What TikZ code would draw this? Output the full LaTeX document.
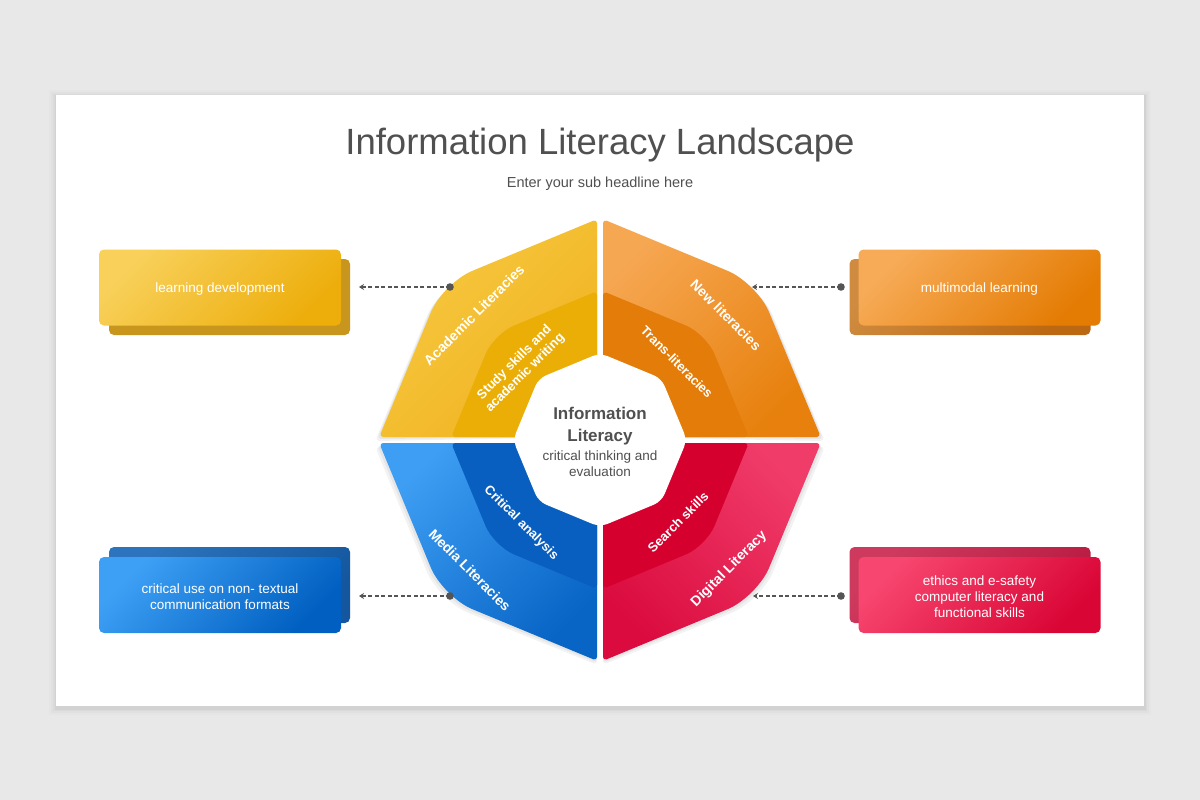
\documentclass[tikz,border=0pt]{standalone}
\usepackage{fontspec}
\setmainfont{Liberation Sans}
\usetikzlibrary{arrows.meta,calc}
\definecolor{bgray}{HTML}{E9E8E9}
\definecolor{txtgray}{HTML}{505050}
\definecolor{conngray}{HTML}{555555}
\definecolor{yA}{HTML}{F7C840}\definecolor{yB}{HTML}{F0B321}\definecolor{yIn}{HTML}{EBAE07}
\definecolor{oA}{HTML}{F6A752}\definecolor{oB}{HTML}{E7800C}\definecolor{oIn}{HTML}{E37C09}
\definecolor{bA}{HTML}{3D9EF3}\definecolor{bB}{HTML}{0864C5}\definecolor{bIn}{HTML}{085FC0}
\definecolor{rA}{HTML}{F03C69}\definecolor{rB}{HTML}{DB0B3F}\definecolor{rIn}{HTML}{D6002F}
\definecolor{ybxA}{HTML}{F8D05A}\definecolor{ybxB}{HTML}{EDAE0C}\definecolor{ybk}{HTML}{C8961C}
\definecolor{obxA}{HTML}{F7AB57}\definecolor{obxB}{HTML}{E47C04}\definecolor{obkA}{HTML}{CF8C40}\definecolor{obkB}{HTML}{BC6812}
\definecolor{bbxA}{HTML}{3EA0F5}\definecolor{bbxB}{HTML}{005FC0}\definecolor{bbkA}{HTML}{2C74BD}\definecolor{bbkB}{HTML}{14579E}
\definecolor{rbxA}{HTML}{F7466F}\definecolor{rbxB}{HTML}{D90535}\definecolor{rbkA}{HTML}{CE3A5E}\definecolor{rbkB}{HTML}{B81A40}
\tikzset{
  boxfront/.style={minimum width=242, minimum height=76, rounded corners=5, inner sep=0pt},
  boxtext/.style={align=center, text=white, font=\fontsize{13.5}{16}\selectfont},
  boxback/.style={minimum width=241, minimum height=76, rounded corners=5, inner sep=0pt},
  dline/.style={draw=conngray, line width=1.8pt, dash pattern=on 4pt off 2.5pt, -{Stealth[length=5pt,width=6pt]}},
  dotmark/.style={fill=conngray},
  outerlbl/.style={text=white, font=\bfseries\fontsize{14}{16}\selectfont, align=center},
  innerlbl/.style={text=white, font=\bfseries\fontsize{13}{15}\selectfont, align=center},
  softshadow/.style={fill=black, opacity=0.05},
}
\begin{document}
\begin{tikzpicture}[x=1pt,y=-1pt]
\useasboundingbox (0,0) rectangle (1200,800);
\fill[bgray] (0,0) rectangle (1200,800);
% card with soft shadow
\foreach \i/\o in {7/0.012,5/0.018,3/0.025,1.5/0.035}
  \fill[black,opacity=\o] (56-\i,95-\i+2) rectangle (1144+\i,706+\i+2);
\fill[white] (56,95) rectangle (1144,706);

% titles
\node[text=txtgray, font=\fontsize{36.5}{40}\selectfont] (title) at (600,145) {Information Literacy Landscape};
\node[text=txtgray, font=\fontsize{14.5}{17}\selectfont] (sub) at (600,184) {Enter your sub headline here};

% ---- soft shadows of the pieces ----
\foreach \s in {2,4}{
\fill[softshadow] (597,437) [rounded corners=4] -- ($(597,219.2)+(0,\s)$) [rounded corners=32] -- ($(443,283)+(-\s,\s)$) [rounded corners=4] -- ($(379.2,437)+(-\s,\s)$) [sharp corners] -- cycle;
\fill[softshadow] (603,437) [rounded corners=4] -- ($(603,219.2)+(0,\s)$) [rounded corners=32] -- ($(757,283)+(\s,\s)$) [rounded corners=4] -- ($(820.8,437)+(\s,\s)$) [sharp corners] -- cycle;
\fill[softshadow] (597,443) [rounded corners=4] -- ($(597,660.8)+(0,\s)$) [rounded corners=32] -- ($(443,597)+(-\s,\s)$) [rounded corners=4] -- ($(379.2,443)+(-\s,\s)$) [sharp corners] -- cycle;
\fill[softshadow] (603,443) [rounded corners=4] -- ($(603,660.8)+(0,\s)$) [rounded corners=32] -- ($(757,597)+(\s,\s)$) [rounded corners=4] -- ($(820.8,443)+(\s,\s)$) [sharp corners] -- cycle;
}

% ---- outer pieces ----
\shade[top color=yA, bottom color=yB, shading angle=45]
  (597,437) [rounded corners=4] -- (597,219.2) [rounded corners=32] -- (443,283) [rounded corners=4] -- (379.2,437) [sharp corners] -- cycle;
\shade[top color=oA, bottom color=oB, shading angle=45]
  (603,437) [rounded corners=4] -- (603,219.2) [rounded corners=32] -- (757,283) [rounded corners=4] -- (820.8,437) [sharp corners] -- cycle;
\shade[top color=bA, bottom color=bB, shading angle=45]
  (597,443) [rounded corners=4] -- (597,660.8) [rounded corners=32] -- (443,597) [rounded corners=4] -- (379.2,443) [sharp corners] -- cycle;
\shade[top color=rA, bottom color=rB, shading angle=-45]
  (603,443) [rounded corners=4] -- (603,660.8) [rounded corners=32] -- (757,597) [rounded corners=4] -- (820.8,443) [sharp corners] -- cycle;

% ---- inner pieces ----
\fill[yIn] (597,437) [rounded corners=4] -- (597,291.2) [rounded corners=22] -- (493.9,333.9) [rounded corners=4] -- (451.2,437) [sharp corners] -- cycle;
\fill[oIn] (603,437) [rounded corners=4] -- (603,291.2) [rounded corners=22] -- (706.1,333.9) [rounded corners=4] -- (748.8,437) [sharp corners] -- cycle;
\fill[bIn] (597,443) [rounded corners=4] -- (597,588.8) [rounded corners=22] -- (493.9,546.1) [rounded corners=4] -- (451.2,443) [sharp corners] -- cycle;
\fill[rIn] (603,443) [rounded corners=4] -- (603,588.8) [rounded corners=22] -- (706.1,546.1) [rounded corners=4] -- (748.8,443) [sharp corners] -- cycle;

% ---- central hole ----
\fill[white, rounded corners=8] (687,440) -- (661.5,378.5) -- (600,353) -- (538.5,378.5) -- (513,440)
  -- (538.5,501.5) -- (600,527) -- (661.5,501.5) -- cycle;

% centre text
\node[text=txtgray, font=\bfseries\fontsize{17}{22}\selectfont, align=center] (core) at (600,426) {Information\\Literacy};
\node[text=txtgray, font=\fontsize{13.5}{16}\selectfont, align=center] (coresub) at (600,464) {critical thinking and\\evaluation};

% piece labels
\node[outerlbl, rotate=45] (lAcad) at (474,315) {Academic Literacies};
\node[innerlbl, rotate=45] (lStudy) at (520,368) {Study skills and\\academic writing};
\node[outerlbl, rotate=-45] (lNew) at (726,315) {New literacies};
\node[innerlbl, rotate=-45] (lTrans) at (677,362) {Trans-literacies};
\node[outerlbl, rotate=-45] (lMedia) at (470,570) {Media Literacies};
\node[innerlbl, rotate=-45] (lCrit) at (521,523) {Critical analysis};
\node[innerlbl, rotate=45] (lSearch) at (678,522) {Search skills};
\node[outerlbl, rotate=45] (lDig) at (729,569) {Digital Literacy};

% ---- side boxes ----
\node[boxback, fill=ybk] (boxYb) at (229.5,297) {};
\node[boxfront, top color=ybxA, bottom color=ybxB, shading angle=45] (boxY) at (220,287.5) {};
\node[boxtext] (txtY) at ($(boxY.center)+(0,2)$) {learning development};
\node[boxback, top color=obkA, bottom color=obkB, shading angle=45] (boxOb) at (970,297) {};
\node[boxfront, top color=obxA, bottom color=obxB, shading angle=45] (boxO) at (979.5,287.5) {};
\node[boxtext] (txtO) at ($(boxO.center)+(0,2)$) {multimodal learning};
\node[boxback, top color=bbkA, bottom color=bbkB, shading angle=45] (boxBb) at (229.5,585) {};
\node[boxfront, top color=bbxA, bottom color=bbxB, shading angle=45] (boxB) at (220,595) {};
\node[boxtext] (txtB) at ($(boxB.center)+(0,2)$) {critical use on non- textual\\communication formats};
\node[boxback, top color=rbkA, bottom color=rbkB, shading angle=45] (boxRb) at (970,585) {};
\node[boxfront, top color=rbxA, bottom color=rbxB, shading angle=45] (boxR) at (979.5,595) {};
\node[boxtext] (txtR) at ($(boxR.center)+(0,2)$) {ethics and e-safety\\computer literacy and\\functional skills};

% ---- connectors ----
\coordinate (dY) at (450,287); \coordinate (tY) at (359,287);
\coordinate (dO) at (841,287); \coordinate (tO) at (752,287);
\coordinate (dB) at (450,596); \coordinate (tB) at (359,596);
\coordinate (dR) at (841,596); \coordinate (tR) at (753,596);
\draw[dline] (dY) -- (tY); \fill[dotmark] (dY) circle (3.8);
\draw[dline] (dO) -- (tO); \fill[dotmark] (dO) circle (3.8);
\draw[dline] (dB) -- (tB); \fill[dotmark] (dB) circle (3.8);
\draw[dline] (dR) -- (tR); \fill[dotmark] (dR) circle (3.8);
\end{tikzpicture}
\end{document}
